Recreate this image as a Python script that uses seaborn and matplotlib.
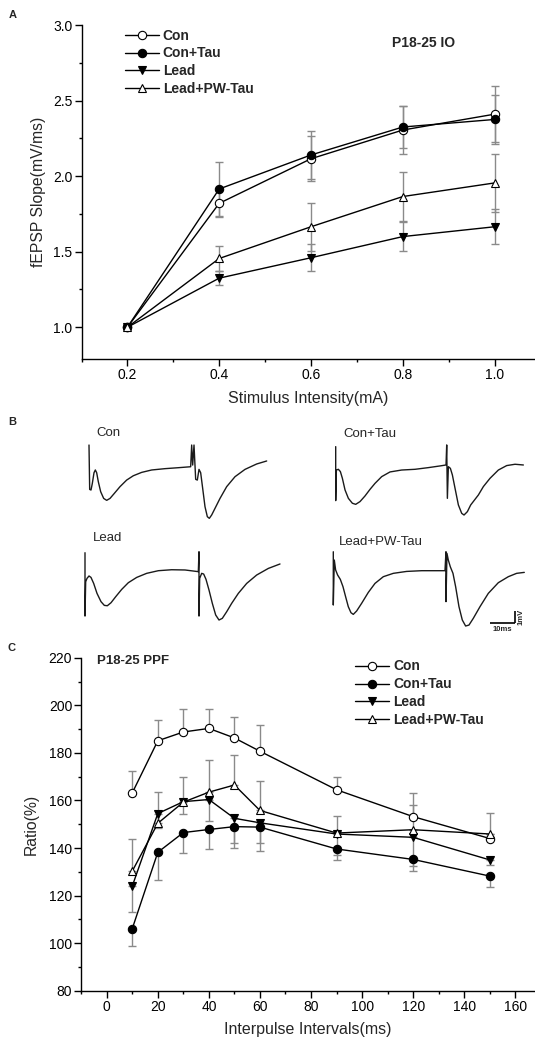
"""Three-panel figure: IO curve, sample fEPSP traces, paired-pulse ratio."""

import matplotlib

matplotlib.use("Agg")

import matplotlib.pyplot as plt
import numpy as np
import pandas as pd
import seaborn as sns
from matplotlib.ticker import MultipleLocator

W, H = 535, 1040  # figure size in pixels (dpi 100)

GROUPS = ["Con", "Con+Tau", "Lead", "Lead+PW-Tau"]

# --- (A) input/output curve ---
IO_INTENSITY = [0.2, 0.4, 0.6, 0.8, 1.0]
IO_CON = [1.0, 1.82, 2.115, 2.305, 2.41]
IO_CON_TAU = [1.0, 1.915, 2.14, 2.325, 2.375]
IO_LEAD = [1.0, 1.325, 1.46, 1.60, 1.665]
IO_LEAD_PW = [1.0, 1.455, 1.665, 1.865, 1.955]
IO_CON_ERR = [0.0, 0.09, 0.15, 0.16, 0.185]
IO_CON_TAU_ERR = [0.0, 0.18, 0.16, 0.14, 0.16]
IO_LEAD_ERR = [0.0, 0.045, 0.09, 0.095, 0.115]
IO_LEAD_PW_ERR = [0.0, 0.08, 0.16, 0.16, 0.19]

# --- (C) paired-pulse facilitation ---
PPF_INTERVAL = [10, 20, 30, 40, 50, 60, 90, 120, 150]
PPF_CON = [163.2, 185.1, 188.8, 190.3, 186.3, 180.7, 164.5, 153.2, 144.0]
PPF_CON_TAU = [106.1, 138.2, 146.5, 147.8, 149.0, 148.8, 139.6, 135.2, 128.2]
PPF_LEAD = [124.0, 154.5, 159.5, 160.4, 152.5, 150.6, 145.9, 144.5, 135.0]
PPF_LEAD_PW = [130.3, 150.4, 159.3, 163.5, 166.5, 155.8, 146.3, 147.7, 145.9]
# one-sided bars, as drawn in the original
PPF_CON_ERR = [9.4, 8.7, 9.5, 8.3, 8.6, 10.9, 5.3, 9.8, 2.0]
PPF_CON_TAU_ERR = [7.4, 11.6, 8.7, 8.4, 9.1, 10.1, 4.6, 4.9, 4.4]
PPF_LEAD_ERR = [11.0, 6.0, 5.0, 9.0, 10.5, 8.3, 9.0, 12.0, 2.0]
PPF_LEAD_PW_ERR = [13.3, 13.3, 10.5, 13.6, 12.6, 12.2, 7.0, 10.6, 9.0]
PPF_ERR_DIR = {"Con": "up", "Con+Tau": "down", "Lead": "down", "Lead+PW-Tau": "up"}

# --- (B) sample traces, time (ms) / voltage (mV) ---
TRACE_CON_T = [0, 0.27, 0.8, 1.33, 2.0, 2.53, 3.07, 3.73, 4.67, 5.87, 7.07, 8.4,
               10.13, 12.4, 15.07, 17.73, 21.07, 25.07, 30.4, 35.73, 40.67, 41.07,
               41.47, 42.0, 42.67, 43.33, 44.0, 44.67, 45.47, 46.4, 47.33, 48.13,
               49.07, 50.4, 52.4, 55.07, 58.4, 62.4, 67.07, 71.07]
TRACE_CON_V = [1.89, -1.81, -1.86, -1.31, -0.42, -0.19, -0.42, -1.17, -2.0, -2.56,
               -2.72, -2.56, -2.14, -1.58, -1.03, -0.67, -0.39, -0.19, -0.08, 0.0,
               0.08, 1.89, 0.22, 1.89, -0.97, -1.03, -0.14, -0.42, -1.72, -3.25,
               -4.08, -4.22, -3.94, -3.39, -2.56, -1.58, -0.75, -0.14, 0.31, 0.56]

TRACE_CON_TAU_T = [0, 0, 0.27, 1.07, 1.87, 2.67, 3.73, 5.07, 6.67, 8.0, 9.73, 11.73,
                   13.73, 15.73, 18.4, 21.73, 26.4, 31.73, 37.07, 41.73, 44.13, 44.4,
                   44.67, 45.07, 45.87, 46.67, 47.73, 49.07, 50.4, 51.33, 52.67, 54.0,
                   55.33, 57.07, 59.07, 61.73, 65.07, 68.4, 71.73, 75.07]
TRACE_CON_TAU_V = [1.89, -2.61, -0.06, 0.0, -0.19, -0.75, -1.72, -2.42, -2.83, -2.92,
                   -2.69, -2.22, -1.67, -1.17, -0.61, -0.22, -0.06, 0.0, 0.14, 0.28,
                   0.36, 2.03, -2.42, 0.22, 0.08, -0.47, -1.58, -2.97, -3.67, -3.81,
                   -3.53, -2.97, -2.61, -2.14, -1.44, -0.75, -0.06, 0.31, 0.42, 0.36]

TRACE_LEAD_T = [0, 0, 0.27, 0.8, 1.6, 2.4, 3.47, 4.8, 6.4, 7.73, 8.93, 10.4, 12.27,
                14.67, 17.33, 20.67, 24.67, 29.33, 34.67, 40.0, 45.33, 45.6, 45.6,
                45.87, 46.67, 47.47, 48.4, 49.6, 50.93, 52.27, 53.6, 54.93, 56.67,
                58.67, 61.33, 64.67, 68.67, 73.33, 78.0]
TRACE_LEAD_V = [1.5, -3.78, -0.92, -0.64, -0.44, -0.56, -1.06, -1.89, -2.58, -2.89,
                -2.92, -2.67, -2.17, -1.56, -1.0, -0.56, -0.22, 0.0, 0.08, 0.06,
                -0.08, 1.58, -3.78, -0.64, -0.22, -0.28, -0.72, -1.61, -2.72, -3.69,
                -4.11, -3.97, -3.42, -2.72, -1.89, -1.06, -0.36, 0.19, 0.56]

TRACE_LEAD_PW_T = [0, 0, 0.4, 0.93, 1.73, 2.8, 3.87, 4.93, 6.0, 7.07, 8.0, 9.33,
                   11.33, 14.0, 16.67, 20.0, 24.0, 29.33, 35.33, 40.67, 44.67, 45.07,
                   45.07, 45.47, 46.0, 46.8, 47.87, 48.93, 50.27, 51.6, 52.93, 54.27,
                   56.0, 58.67, 62.0, 66.0, 70.0, 73.33, 76.4]
TRACE_LEAD_PW_V = [1.58, -2.86, 0.89, 0.06, -0.36, -0.72, -1.33, -2.17, -3.0, -3.5,
                   -3.64, -3.36, -2.72, -1.81, -1.06, -0.5, -0.22, -0.06, 0.0, 0.0,
                   0.0, 1.58, -2.58, 1.44, 0.89, 0.33, -0.22, -1.33, -3.0, -4.11,
                   -4.61, -4.53, -3.97, -3.0, -1.89, -1.0, -0.5, -0.22, -0.14]

SCALE_MS = 10
SCALE_MV = 1

_MARKERS = {
    "Con": {"marker": "o", "markerfacecolor": "white"},
    "Con+Tau": {"marker": "o", "markerfacecolor": "black"},
    "Lead": {"marker": "v", "markerfacecolor": "black"},
    "Lead+PW-Tau": {"marker": "^", "markerfacecolor": "white"},
}
ERR_COLOR = "#8a8a8a"
FONT = ["Liberation Sans", "DejaVu Sans"]


def _axes_px(fig, left, top, right, bottom):
    return fig.add_axes([left / W, 1 - bottom / H, (right - left) / W, (bottom - top) / H])


def _fig_xy(x, y):
    return x / W, 1 - y / H


def _style_axes(ax, xmaj, xmin, ymaj, ymin):
    ax.xaxis.set_major_locator(MultipleLocator(xmaj))
    ax.xaxis.set_minor_locator(MultipleLocator(xmin))
    ax.yaxis.set_major_locator(MultipleLocator(ymaj))
    ax.yaxis.set_minor_locator(MultipleLocator(ymin))
    ax.tick_params(which="major", direction="out", length=5, width=1.0, pad=1.5,
                   labelsize=10, color="black", labelcolor="black")
    ax.tick_params(which="minor", direction="out", length=2.5, width=1.0, color="black")
    sns.despine(ax=ax)
    for sp in ("left", "bottom"):
        ax.spines[sp].set_linewidth(1.0)
        ax.spines[sp].set_color("black")


def _draw_series(ax, x, y, lower, upper, group):
    ax.errorbar(x, y, yerr=[lower, upper], fmt="none", ecolor=ERR_COLOR,
                elinewidth=1.0, capsize=3, capthick=1.0, zorder=1)
    sns.lineplot(x=x, y=y, ax=ax, color="black", linewidth=1.0, estimator=None,
                 errorbar=None, markersize=6, markeredgecolor="black",
                 markeredgewidth=0.8, label=group, zorder=3, **_MARKERS[group])


def _legend(ax, fig, x, y):
    ax.legend(loc="upper left", bbox_to_anchor=_fig_xy(x, y), bbox_transform=fig.transFigure,
              frameon=False, borderpad=0, borderaxespad=0, handlelength=2.45,
              handletextpad=0.3, labelspacing=0.28, numpoints=1,
              prop={"family": FONT, "weight": "bold", "size": 10})


def main():
    sns.set_theme(style="ticks")
    plt.rcParams["font.family"] = FONT
    plt.rcParams["axes.edgecolor"] = "black"

    fig = plt.figure(figsize=(W / 100, H / 100), dpi=100)

    # ---------------- panel A ----------------
    ax_a = _axes_px(fig, 81.5, 25, 535, 359.3)
    io_vals = [IO_CON, IO_CON_TAU, IO_LEAD, IO_LEAD_PW]
    io_errs = [IO_CON_ERR, IO_CON_TAU_ERR, IO_LEAD_ERR, IO_LEAD_PW_ERR]
    for group, vals, err in zip(GROUPS, io_vals, io_errs):
        _draw_series(ax_a, IO_INTENSITY, vals, err, err, group)
    ax_a.set_xlim(0.1, 1.088)
    ax_a.set_ylim(0.788, 3.0)
    _style_axes(ax_a, 0.2, 0.1, 0.5, 0.25)
    ax_a.xaxis.set_major_formatter(matplotlib.ticker.FormatStrFormatter("%.1f"))
    ax_a.yaxis.set_major_formatter(matplotlib.ticker.FormatStrFormatter("%.1f"))
    ax_a.set_xlabel("Stimulus Intensity(mA)", fontsize=11.5, labelpad=6)
    ax_a.set_ylabel("fEPSP Slope(mV/ms)", fontsize=11.3, labelpad=5)
    _legend(ax_a, fig, 124.6, 28.5)
    fig.text(*_fig_xy(392.5, 43), "P18-25 IO", fontsize=10, fontweight="bold",
             ha="left", va="center")

    # ---------------- panel B ----------------
    traces = [
        ("Con", TRACE_CON_T, TRACE_CON_V, 89.0, 467.7, (96.6, 433)),
        ("Con+Tau", TRACE_CON_TAU_T, TRACE_CON_TAU_V, 335.7, 469.3, (343.7, 434)),
        ("Lead", TRACE_LEAD_T, TRACE_LEAD_V, 85.0, 570.7, (93.2, 538.3)),
        ("Lead+PW-Tau", TRACE_LEAD_PW_T, TRACE_LEAD_PW_V, 333.3, 570.7, (339.0, 541.7)),
    ]
    ms_per_px, mv_per_px = 0.4, 1 / 12
    t0, t1, v0, v1 = -5, 80, -5.5, 2.5
    ax_tr = None
    for name, t, v, x_start, y_base, label_xy in traces:
        ax_tr = _axes_px(fig, x_start + t0 / ms_per_px, y_base - v1 / mv_per_px,
                         x_start + t1 / ms_per_px, y_base - v0 / mv_per_px)
        sns.lineplot(x=t, y=v, ax=ax_tr, color="#1a1a1a", linewidth=1.0,
                     estimator=None, sort=False, errorbar=None)
        ax_tr.set_xlim(t0, t1)
        ax_tr.set_ylim(v0, v1)
        ax_tr.set_axis_off()
        fig.text(*_fig_xy(*label_xy), name, fontsize=9.5, ha="left", va="center")

    # scale bar in the last trace's data units
    bar_t, bar_v = 72.7, -4.33
    ax_tr.plot([bar_t - SCALE_MS, bar_t], [bar_v, bar_v], color="black", lw=1.2,
               solid_capstyle="butt")
    ax_tr.plot([bar_t, bar_t], [bar_v, bar_v + SCALE_MV], color="black", lw=1.2,
               solid_capstyle="butt")
    ax_tr.text(bar_t - SCALE_MS / 2, bar_v - 0.3, f"{SCALE_MS}ms", fontsize=5.5,
               fontweight="bold", ha="center", va="top")
    ax_tr.text(bar_t + 0.8, bar_v + SCALE_MV / 2, f"{SCALE_MV}mV", fontsize=5.5,
               fontweight="bold", ha="left", va="center", rotation=90)

    # ---------------- panel C ----------------
    ax_c = _axes_px(fig, 81.2, 657.8, 535, 990.7)
    ppf_vals = [PPF_CON, PPF_CON_TAU, PPF_LEAD, PPF_LEAD_PW]
    ppf_errs = [PPF_CON_ERR, PPF_CON_TAU_ERR, PPF_LEAD_ERR, PPF_LEAD_PW_ERR]
    for group, vals, err in zip(GROUPS, ppf_vals, ppf_errs):
        zeros = np.zeros(len(err))
        if PPF_ERR_DIR[group] == "up":
            lower, upper = zeros, err
        else:
            lower, upper = err, zeros
        _draw_series(ax_c, PPF_INTERVAL, vals, lower, upper, group)
    ax_c.set_xlim(-10, 167.7)
    ax_c.set_ylim(80, 220)
    _style_axes(ax_c, 20, 10, 20, 10)
    ax_c.set_xlabel("Interpulse Intervals(ms)", fontsize=11.5, labelpad=6)
    ax_c.set_ylabel("Ratio(%)", fontsize=11.3, labelpad=7)
    _legend(ax_c, fig, 355, 659.5)
    fig.text(*_fig_xy(97, 661), "P18-25 PPF", fontsize=9.5, fontweight="bold",
             ha="left", va="center")

    # panel letters
    for letter, (x, y) in zip("ABC", [(13, 15), (12, 422), (12, 648)]):
        fig.text(*_fig_xy(x, y), letter, fontsize=8, fontweight="bold",
                 ha="center", va="center")

    fig.savefig("out.png", dpi=100)
    plt.close(fig)


if __name__ == "__main__":
    main()
